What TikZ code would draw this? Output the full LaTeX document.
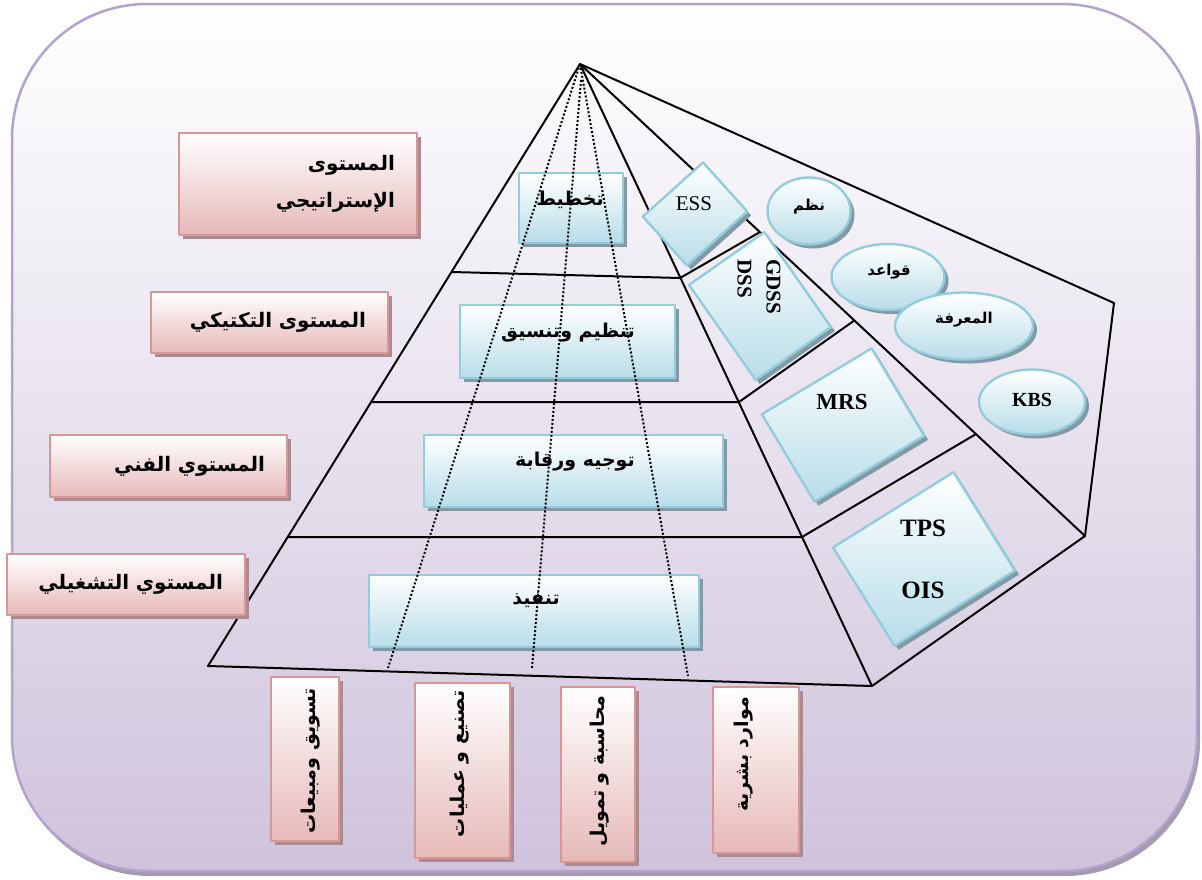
\documentclass[tikz,border=0pt]{standalone}
\usepackage{fontspec}
\setmainfont{Liberation Serif}
\newfontfamily\arabicfont[Script=Arabic]{DejaVu Sans Bold}
\TeXXeTstate=1
\usetikzlibrary{shadows,shapes.geometric}

\definecolor{frameLine}{HTML}{B3A2CE}
\definecolor{frameBottom}{HTML}{CFC3DC}
\definecolor{frameShadow}{HTML}{A39CAD}
\definecolor{pinkLine}{HTML}{D99694}
\definecolor{pinkFill}{HTML}{E6B9B8}
\definecolor{pinkShadow}{HTML}{A88C92}
\definecolor{blueLine}{HTML}{93CDDD}
\definecolor{blueFill}{HTML}{B7DDE8}
\definecolor{blueShadow}{HTML}{8499A4}

\newcommand{\rtltext}[1]{\beginR #1\endR}

\begin{document}
\begin{tikzpicture}[x=1pt,y=-1pt,line join=round,
  edge/.style={line width=2pt,black},
  dotline/.style={line width=2pt,black,dash pattern=on 2pt off 2pt},
  pinkbox/.style={draw=pinkLine,line width=2.4pt,top color=white,bottom color=pinkFill,inner sep=0pt,
    drop shadow={shadow xshift=4pt,shadow yshift=-4pt,fill=pinkShadow,opacity=1}},
  bluebox/.style={draw=blueLine,line width=2.4pt,top color=white,bottom color=blueFill,inner sep=0pt,
    drop shadow={shadow xshift=4pt,shadow yshift=-4pt,fill=blueShadow,opacity=1}},
  tiltbox/.style={bluebox,rotate=#1},
  oval/.style={bluebox,ellipse},
  leveltext/.style={font=\arabicfont\fontsize{20}{37}\selectfont,align=right,inner xsep=22pt},
  tiertext/.style={font=\arabicfont\fontsize{19}{23}\selectfont,inner sep=0pt},
  deptext/.style={font=\arabicfont\fontsize{19}{22}\selectfont,inner sep=0pt,rotate=90,anchor=east},
  ovaltext/.style={font=\arabicfont\fontsize{15}{18}\selectfont},
  systext/.style={font=\fontsize{21}{29}\selectfont,inner sep=0pt},
  sysbold/.style={font=\bfseries\fontsize{#1}{#1}\selectfont,inner sep=0pt}]

\useasboundingbox (0,0) rectangle (1202,879);

% rounded panel with its shadow
\fill[frameShadow,rounded corners=135pt] (15,8) rectangle (1200,876);
\path[draw=frameLine,line width=2.5pt,top color=white,bottom color=frameBottom,rounded corners=135pt]
  (12,4) rectangle (1197,871);

% pyramid outline
\coordinate (apex) at (580,64);
\coordinate (baseL) at (208,666);
\coordinate (baseF) at (872,686);
\coordinate (baseR) at (1085,536);
\coordinate (backT) at (1114,303);
\draw[edge] (apex) -- (baseL) -- (baseF) -- (baseR) -- (backT) -- cycle;
\draw[edge] (apex) -- (baseF);
\draw[edge] (apex) -- (baseR);

% tier lines on both faces
\coordinate (t1a) at (452,272); \coordinate (t1b) at (680,278); \coordinate (t1c) at (760,232);
\coordinate (t2a) at (371,402); \coordinate (t2b) at (739,402); \coordinate (t2c) at (855,320);
\coordinate (t3a) at (288,537); \coordinate (t3b) at (802,537); \coordinate (t3c) at (976,434);
\draw[edge] (t1a) -- (t1b) -- (t1c);
\draw[edge] (t2a) -- (t2b) -- (t2c);
\draw[edge] (t3a) -- (t3b) -- (t3c);

% management levels
\node[pinkbox,leveltext,minimum width=238pt,minimum height=102pt,text width=194pt] (strat) at (298,184)
  {\rtltext{المستوى}\\\rtltext{الإستراتيجي}};
\node[pinkbox,leveltext,minimum width=237pt,minimum height=61pt,text width=193pt] (tact) at (269.5,322.5)
  {\rtltext{المستوى التكتيكي}};
\node[pinkbox,leveltext,minimum width=237pt,minimum height=62pt,text width=193pt] (tech) at (168.5,466)
  {\rtltext{المستوي الفني}};
\node[pinkbox,leveltext,minimum width=238pt,minimum height=61pt,text width=194pt] (oper) at (126,584.5)
  {\rtltext{المستوي التشغيلي}};

% functions of each tier
\node[bluebox,minimum width=104pt,minimum height=70pt] (plan) at (571,208) {};
\node[bluebox,minimum width=215pt,minimum height=73pt] (org) at (567.5,341.5) {};
\node[bluebox,minimum width=299pt,minimum height=72pt] (ctrl) at (573.5,471) {};
\node[bluebox,minimum width=330pt,minimum height=72pt] (exec) at (534,611) {};

% information systems on the side face
\node[tiltbox=42,minimum width=81pt,minimum height=66pt] (ess) at (695,214) {};
\node[tiltbox=35,minimum width=92pt,minimum height=116pt] (dss) at (760,306) {};
\node[tiltbox=31,minimum width=128pt,minimum height=102pt] (mrs) at (843,425) {};
\node[tiltbox=32,minimum width=142pt,minimum height=116pt] (tps) at (924,559) {};

\node[oval,minimum width=83pt,minimum height=67pt] (nazm) at (809,211) {};
\node[oval,minimum width=113pt,minimum height=66pt] (qawaed) at (888,277) {};
\node[oval,minimum width=138pt,minimum height=67pt] (marifa) at (964,326) {};
\node[oval,minimum width=106pt,minimum height=65pt] (kbs) at (1032,402) {};

% functional areas
\node[pinkbox,minimum width=68pt,minimum height=164pt] (mkt) at (305,759) {};
\node[pinkbox,minimum width=95pt,minimum height=175pt] (prod) at (462.5,770.5) {};
\node[pinkbox,minimum width=74pt,minimum height=175pt] (fin) at (598,774.5) {};
\node[pinkbox,minimum width=86pt,minimum height=166pt] (hr) at (756,770) {};

% functional divisions running down the pyramid
\coordinate (d1) at (388,668);
\coordinate (d2top) at (581,80);
\coordinate (d2) at (532,668);
\coordinate (d3) at (688,676);
\draw[dotline] (apex) -- (d1);
\draw[dotline] (d2top) -- (d2);
\draw[dotline] (apex) -- (d3);

% labels
\node[tiertext] (planT) at (570,200) {\rtltext{تخطيط}};
\node[tiertext] (orgT) at (568,333) {\rtltext{تنظيم وتنسيق}};
\node[tiertext] (ctrlT) at (575,462) {\rtltext{توجيه ورقابة}};
\node[tiertext] (execT) at (536,600) {\rtltext{تنفيذ}};

\node[systext] (essT) at (694,204) {ESS};
\node[systext,font=\bfseries\fontsize{21}{29}\selectfont,rotate=-90,anchor=west,align=left] (dssT) at (759,259) {GDSS\\DSS};
\node[sysbold=23] (mrsT) at (842,402) {MRS};
\node[sysbold=25] (tpsT) at (923,528) {TPS};
\node[sysbold=25] (oisT) at (923,590) {OIS};

\node[ovaltext] (nazmT) at (809,207) {\rtltext{نظم}};
\node[ovaltext] (qawaedT) at (889,272) {\rtltext{قواعد}};
\node[ovaltext] (marifaT) at (964,320) {\rtltext{المعرفة}};
\node[sysbold=20] (kbsT) at (1032,400) {KBS};

\node[deptext] (mktT) at (311,688) {\rtltext{تسويق ومبيعات}};
\node[deptext] (prodT) at (460,690) {\rtltext{تصنيع و عمليات}};
\node[deptext] (finT) at (600,695) {\rtltext{محاسبة و تمويل}};
\node[deptext] (hrT) at (744,697) {\rtltext{موارد بشرية}};

\end{tikzpicture}
\end{document}
